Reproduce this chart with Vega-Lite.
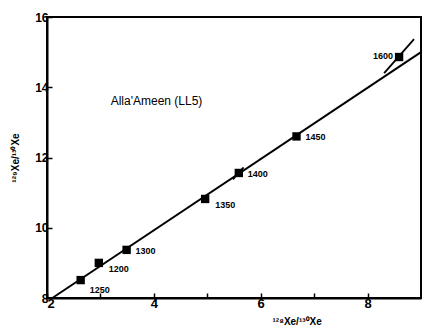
{
  "$schema": "https://vega.github.io/schema/vega-lite/v6.json",
  "width": 374,
  "height": 281,
  "autosize": {"type": "none"},
  "padding": {"left": 47, "top": 17, "right": 4, "bottom": 35},
  "background": "white",
  "config": {
    "view": {"stroke": "black", "strokeWidth": 2},
    "font": "Liberation Sans"
  },
  "datasets": {
    "pts": [
      {"x": 2.63, "y": 8.51, "T": "1250", "pos": "low"},
      {"x": 2.97, "y": 9.0, "T": "1200", "pos": "mid"},
      {"x": 3.49, "y": 9.37, "T": "1300", "pos": "right"},
      {"x": 4.96, "y": 10.82, "T": "1350", "pos": "mid"},
      {"x": 5.59, "y": 11.56, "T": "1400", "pos": "right"},
      {"x": 6.67, "y": 12.6, "T": "1450", "pos": "right"},
      {"x": 8.59, "y": 14.86, "T": "1600", "pos": "left"}
    ],
    "fit": [
      {"x": 2.1, "y": 8.0},
      {"x": 9.0, "y": 15.0}
    ],
    "err": [
      {"x": 8.31, "y": 14.4, "x2": 8.87, "y2": 15.37},
      {"x": 5.48, "y": 11.38, "x2": 5.68, "y2": 11.72}
    ],
    "note": [
      {"x": 4.05, "y": 13.62, "t": "Alla'Ameen (LL5)"}
    ]
  },
  "layer": [
    {
      "data": {"name": "fit"},
      "mark": {"type": "line", "color": "black", "strokeWidth": 2},
      "encoding": {
        "x": {
          "field": "x", "type": "quantitative",
          "scale": {"domain": [2, 9], "nice": false},
          "axis": {
            "title": "¹²⁸Xe/¹³⁰Xe",
            "titleFontSize": 10, "titleFontWeight": "bold", "titlePadding": 6, "titleX": 225, "titleAnchor": "start",
            "values": [2, 3, 4, 5, 6, 7, 8],
            "format": "d",
            "labelExpr": "datum.value % 2 == 0 ? datum.label : ''",
            "labelFontSize": 13, "labelFontWeight": "bold", "labelPadding": 4,
            "tickSize": -5, "tickWidth": 1.5, "tickColor": "black",
            "domainColor": "black", "domainWidth": 2, "grid": false,
            "labelColor": "black", "titleColor": "black"
          }
        },
        "y": {
          "field": "y", "type": "quantitative",
          "scale": {"domain": [8, 16], "nice": false},
          "axis": {
            "title": "¹²⁹Xe/¹³⁰Xe",
            "titleFontSize": 10, "titleFontWeight": "bold", "titlePadding": 14,
            "values": [8, 10, 12, 14, 16],
            "format": "d",
            "labelFontSize": 12, "labelFontWeight": "bold", "labelPadding": 4,
            "tickSize": -5, "tickWidth": 1.5, "tickColor": "black",
            "domainColor": "black", "domainWidth": 2, "grid": false,
            "labelColor": "black", "titleColor": "black"
          }
        }
      }
    },
    {
      "data": {"name": "err"},
      "mark": {"type": "rule", "color": "black", "strokeWidth": 1.8},
      "encoding": {
        "x": {"field": "x", "type": "quantitative"},
        "y": {"field": "y", "type": "quantitative"},
        "x2": {"field": "x2"},
        "y2": {"field": "y2"}
      }
    },
    {
      "data": {"name": "pts"},
      "mark": {"type": "square", "color": "black", "filled": true, "opacity": 1, "size": 70},
      "encoding": {
        "x": {"field": "x", "type": "quantitative"},
        "y": {"field": "y", "type": "quantitative"}
      }
    },
    {
      "data": {"name": "pts"},
      "transform": [{"filter": "datum.pos == 'right'"}],
      "mark": {"type": "text", "align": "left", "dx": 9, "dy": 1, "fontSize": 9, "fontWeight": "bold", "color": "black"},
      "encoding": {
        "x": {"field": "x", "type": "quantitative"},
        "y": {"field": "y", "type": "quantitative"},
        "text": {"field": "T"}
      }
    },
    {
      "data": {"name": "pts"},
      "transform": [{"filter": "datum.pos == 'mid'"}],
      "mark": {"type": "text", "align": "left", "dx": 10, "dy": 6, "fontSize": 9, "fontWeight": "bold", "color": "black"},
      "encoding": {
        "x": {"field": "x", "type": "quantitative"},
        "y": {"field": "y", "type": "quantitative"},
        "text": {"field": "T"}
      }
    },
    {
      "data": {"name": "pts"},
      "transform": [{"filter": "datum.pos == 'low'"}],
      "mark": {"type": "text", "align": "left", "dx": 9, "dy": 10, "fontSize": 9, "fontWeight": "bold", "color": "black"},
      "encoding": {
        "x": {"field": "x", "type": "quantitative"},
        "y": {"field": "y", "type": "quantitative"},
        "text": {"field": "T"}
      }
    },
    {
      "data": {"name": "pts"},
      "transform": [{"filter": "datum.pos == 'left'"}],
      "mark": {"type": "text", "align": "right", "dx": -6, "dy": -1, "fontSize": 9, "fontWeight": "bold", "color": "black"},
      "encoding": {
        "x": {"field": "x", "type": "quantitative"},
        "y": {"field": "y", "type": "quantitative"},
        "text": {"field": "T"}
      }
    },
    {
      "data": {"name": "note"},
      "mark": {"type": "text", "align": "center", "fontSize": 12, "color": "black"},
      "encoding": {
        "x": {"field": "x", "type": "quantitative"},
        "y": {"field": "y", "type": "quantitative"},
        "text": {"field": "t"}
      }
    }
  ]
}
